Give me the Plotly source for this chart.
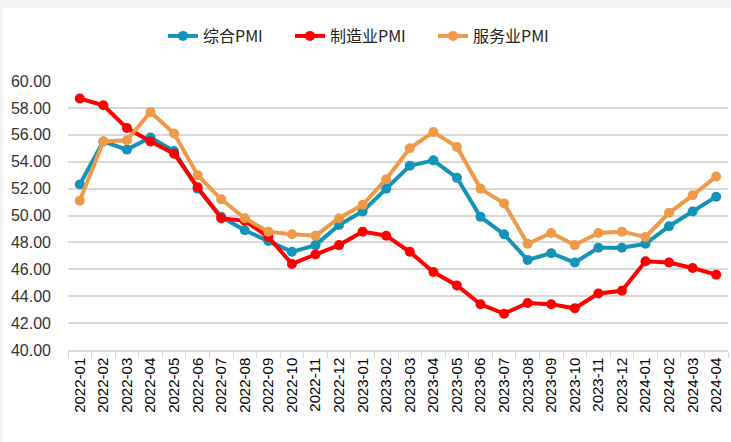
import plotly.graph_objects as go

months = ["2022-01","2022-02","2022-03","2022-04","2022-05","2022-06","2022-07","2022-08","2022-09","2022-10","2022-11","2022-12",
          "2023-01","2023-02","2023-03","2023-04","2023-05","2023-06","2023-07","2023-08","2023-09","2023-10","2023-11","2023-12",
          "2024-01","2024-02","2024-03","2024-04"]
composite = [52.3,55.5,54.9,55.8,54.8,52.0,49.9,48.9,48.1,47.3,47.8,49.3,
             50.3,52.0,53.7,54.1,52.8,49.9,48.6,46.7,47.2,46.5,47.6,47.6,
             47.9,49.2,50.3,51.4]
manufacturing = [58.7,58.2,56.5,55.5,54.6,52.1,49.8,49.6,48.4,46.4,47.1,47.8,
                 48.8,48.5,47.3,45.8,44.8,43.4,42.7,43.5,43.4,43.1,44.2,44.4,
                 46.6,46.5,46.1,45.6]
services = [51.1,55.5,55.6,57.7,56.1,53.0,51.2,49.8,48.8,48.6,48.5,49.8,
            50.8,52.7,55.0,56.2,55.1,52.0,50.9,47.9,48.7,47.8,48.7,48.8,
            48.4,50.2,51.5,52.9]
names = ["综合PMI", "制造业PMI", "服务业PMI"]
colors = ["#1493b8", "#ff0000", "#ee9a48"]

L, R, T, B = 68, 3, 81, 92
W, H = 731, 442
pw, ph = W - L - R, H - T - B
def px_x(p): return (p - L) / pw
def px_y(p): return (H - B - p) / ph

legend_ids = ["legend", "legend2", "legend3"]
legend_x = [163, 290, 433]

fig = go.Figure()
for name, vals, c, lid in zip(names, [composite, manufacturing, services], colors, legend_ids):
    fig.add_trace(go.Scatter(x=months, y=vals, name=name, mode="lines+markers",
                             line=dict(color=c, width=4),
                             marker=dict(color=c, size=10), legend=lid))

fig.add_shape(type="rect", xref="paper", yref="paper",
              x0=px_x(3), x1=px_x(740), y0=px_y(8), y1=px_y(460),
              fillcolor="white", line=dict(width=0), layer="below")

legend_common = dict(orientation="h", yanchor="middle", xanchor="left",
                     font=dict(family="Noto Sans CJK SC", size=16, color="#222222"), itemwidth=30,
                     bgcolor="rgba(0,0,0,0)")
layout_legends = {}
for lid, lx in zip(legend_ids, legend_x):
    layout_legends[lid] = dict(legend_common, x=px_x(lx), y=px_y(36))

fig.update_layout(
    width=W, height=H,
    margin=dict(l=L, r=R, t=T, b=B, autoexpand=False),
    paper_bgcolor="#f2f2f2", plot_bgcolor="rgba(0,0,0,0)",
    font=dict(family="Liberation Sans, Arial", color="#000000"),
    showlegend=True,
    xaxis=dict(type="category", tickangle=-90, showgrid=False, automargin=False,
               showline=True, linecolor="#d9d9d9", linewidth=1.5,
               ticks="outside", tickson="boundaries", ticklen=6, tickcolor="#d9d9d9",
               tickfont=dict(size=15, family="Liberation Sans, Arial", color="#000000"),
               range=[-0.5, len(months) - 0.5]),
    yaxis=dict(range=[40, 60], dtick=2, tickformat=".2f", automargin=False,
               showgrid=True, gridcolor="#d9d9d9", gridwidth=1.5,
               zeroline=False, showline=False,
               tickfont=dict(size=16, family="Liberation Sans, Arial", color="#333333"),
               ticklabelstandoff=16),
    **layout_legends,
)

fig.write_html("out.html", config={"displayModeBar": False},
               post_script="document.body.style.margin='0';document.body.style.overflow='hidden';")
